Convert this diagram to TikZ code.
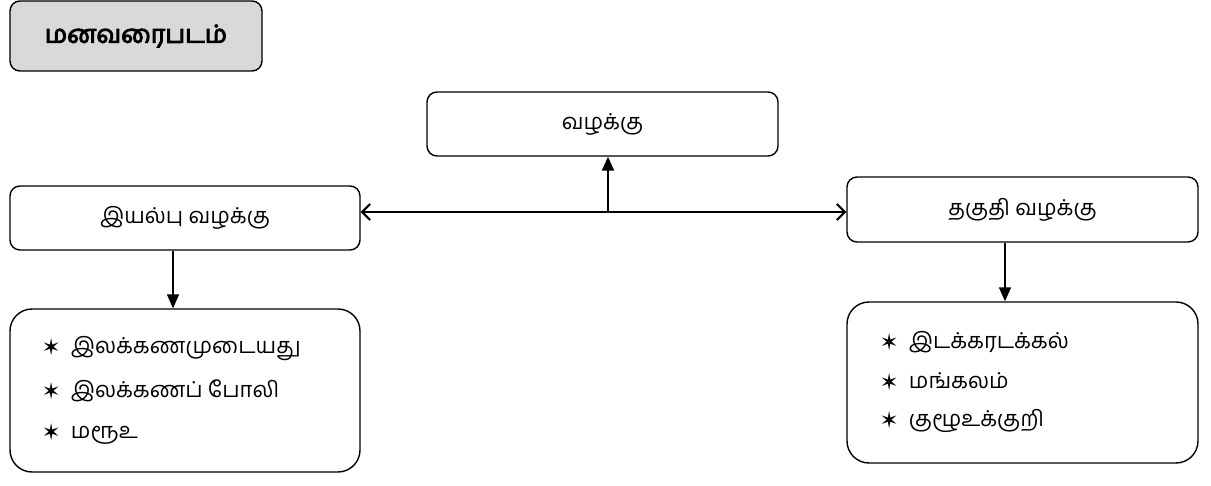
\documentclass[tikz,border=0pt]{standalone}
\usepackage{fontspec}
\usetikzlibrary{arrows.meta}
\newfontfamily\tamil[Script=Tamil]{Hind Madurai}
\newfontfamily\tamilbold[Script=Tamil,FakeBold=4]{Hind Madurai}
\newfontfamily\symb{DejaVu Sans}
\newcommand{\itm}{\raisebox{-2bp}{\symb\fontsize{23}{23}\selectfont ✶}\hspace{10bp}}

\begin{document}
\begin{tikzpicture}[x=1bp,y=-1bp,line width=1.4bp]
\tikzstyle{box}=[draw,rounded corners=10bp,inner sep=0pt,font=\tamil\fontsize{22}{22}\selectfont]
\tikzstyle{item}=[anchor=west,inner sep=0pt,font=\tamil\fontsize{22}{22}\selectfont]
\useasboundingbox (0,0) rectangle (1211,486);

% title
\path (136,36) node[box,fill=black!15,minimum width=252bp,minimum height=70bp,font=\tamilbold\fontsize{25}{25}\selectfont](t){மனவரைபடம்};

% top row
\path (602.5,124) node[box,minimum width=351bp,minimum height=64bp](c){வழக்கு};
\path (185,218) node[box,minimum width=350bp,minimum height=64bp](l){இயல்பு வழக்கு};
\path (1022.5,209.5) node[box,minimum width=351bp,minimum height=65bp](r){தகுதி வழக்கு};
\coordinate (hm) at (608,212);
\draw[line width=2bp,{Straight Barb[length=8bp,width=16bp]}-{Straight Barb[length=8bp,width=16bp]}] (hm -| l.east) -- (hm -| r.west);
\draw[line width=2bp,-{Triangle[length=14bp,width=12bp]}] (hm) -- (hm |- c.south);

% lists
\path (185,390.5) node[box,rounded corners=22bp,minimum width=350bp,minimum height=163bp](ll){};
\path (1022.5,382.5) node[box,rounded corners=22bp,minimum width=351bp,minimum height=161bp](rl){};
\draw[line width=1.6bp,-{Triangle[length=14bp,width=12bp]}] (l.south -| 173,0) -- (ll.north -| 173,0);
\draw[line width=1.6bp,-{Triangle[length=14bp,width=12bp]}] (r.south -| 1005,0) -- (rl.north -| 1005,0);

\path (41,349) node[item](l1){\itm இலக்கணமுடையது};
\path (41,391) node[item](l2){\itm இலக்கணப் போலி};
\path (41,434) node[item](l3){\itm மரூஉ};
\path (879,342) node[item](r1){\itm இடக்கரடக்கல்};
\path (879,382) node[item](r2){\itm மங்கலம்};
\path (879,421) node[item](r3){\itm குழூஉக்குறி};
\end{tikzpicture}
\end{document}
